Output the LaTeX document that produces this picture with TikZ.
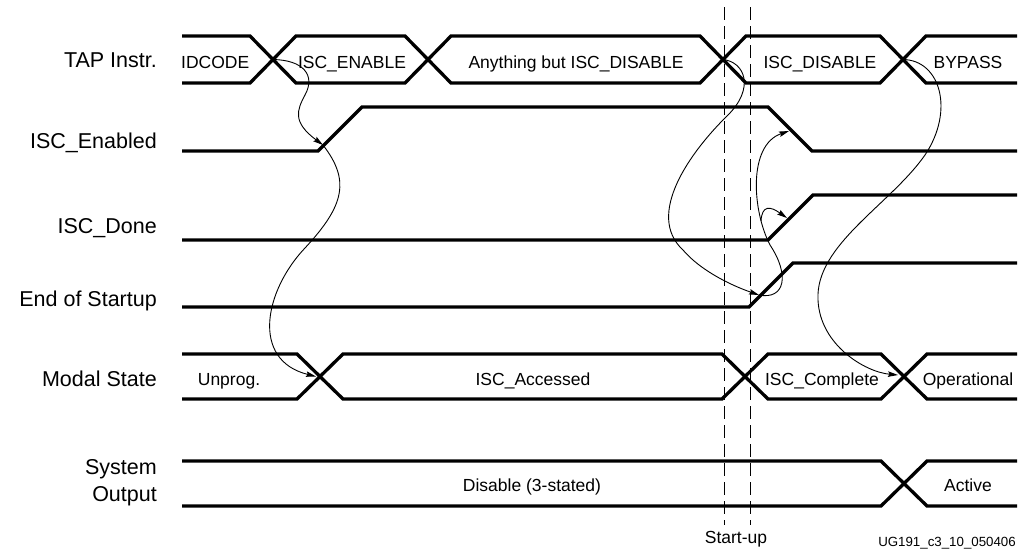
\documentclass[tikz,border=0pt]{standalone}
\usepackage{fontspec}
\setmainfont{Liberation Sans}
\usetikzlibrary{arrows.meta}
\begin{document}
\begin{tikzpicture}[
  x=1pt, y=-1pt,
  wave/.style={line width=3.3pt},
  guide/.style={line width=0.9pt, dash pattern=on 13pt off 6pt},
  link/.style={line width=0.9pt, -{Stealth[length=10pt, width=5.5pt, inset=1.5pt]}},
  lab/.style={font=\fontsize{21.5}{26.7}\selectfont, anchor=base east, inner sep=0pt},
  val/.style={font=\fontsize{17.5}{20}\selectfont, anchor=base, inner sep=0pt},
  tag/.style={font=\fontsize{13.3}{16}\selectfont, anchor=base east, inner sep=0pt}
]
\useasboundingbox (0,0) rectangle (1026,550);
\node[lab] (tap) at (157,67.7) {TAP Instr.};
\node[lab] (en) at (157,148.3) {ISC\_Enabled};
\node[lab] (done) at (157,233.3) {ISC\_Done};
\node[lab] (eosl) at (157,306) {End of Startup};
\node[lab] (modal) at (157,386.7) {Modal State};
\node[lab, anchor=east, align=right] (sysout) at (157,482.8) {System\\Output};
\draw[wave] (182,36) -- (250,36) -- (296,83) -- (405,83) -- (451,36) -- (700,36) -- (746,83) -- (880,83) -- (926,36) -- (1017,36);
\draw[wave] (182,83) -- (250,83) -- (296,36) -- (405,36) -- (451,83) -- (700,83) -- (746,36) -- (880,36) -- (926,83) -- (1017,83);
\draw[wave] (182,151) -- (318,151) -- (362,107) -- (768,107) -- (812,151) -- (1017,151);
\draw[wave] (182,240) -- (768,240) -- (813,195) -- (1017,195);
\draw[wave] (182,307) -- (749,307) -- (793,263) -- (1017,263);
\draw[wave] (182,354) -- (297,354) -- (343,399) -- (722,399) -- (768,354) -- (881,354) -- (927,399) -- (1017,399);
\draw[wave] (182,399) -- (297,399) -- (343,354) -- (722,354) -- (768,399) -- (881,399) -- (927,354) -- (1017,354);
\draw[wave] (182,461) -- (881,461) -- (927,506) -- (1017,506);
\draw[wave] (182,506) -- (881,506) -- (927,461) -- (1017,461);
\draw[guide] (724,7) -- (724,525);
\draw[guide] (750,7) -- (750,525);
\node[val, anchor=base west] (idcode) at (181,68.5) {IDCODE};
\node[val] (iscen) at (352,68.5) {ISC\_ENABLE};
\node[val] (anything) at (576,68.5) {Anything but ISC\_DISABLE};
\node[val] (iscdis) at (820,68.5) {ISC\_DISABLE};
\node[val] (bypass) at (968,68.5) {BYPASS};
\node[val] (unprog) at (229,385.5) {Unprog.};
\node[val] (accessed) at (533,385.5) {ISC\_Accessed};
\node[val] (complete) at (822,385.5) {ISC\_Complete};
\node[val] (operational) at (968,385.5) {Operational};
\node[val] (disable) at (532,491.5) {Disable (3-stated)};
\node[val] (active) at (968,491.5) {Active};
\node[val] (startup) at (736,543) {Start-up};
\node[tag] (figid) at (1016,546.5) {UG191\_c3\_10\_050406};
\coordinate (tapA) at (273,59.5);
\coordinate (tapC) at (723,59.5);
\coordinate (tapD) at (903,59.5);
\coordinate (enRise) at (323,145);
\coordinate (enFall) at (789,131);
\coordinate (doneRise) at (787,218);
\coordinate (eos) at (759,295);
\coordinate (fork) at (761,221);
\coordinate (modA) at (316,376.5);
\coordinate (modC) at (898,375);
\draw[link] (tapA) .. controls (303,60) and (316,75) .. (305,95) .. controls (297,110) and (292,122) .. (enRise);
\draw[link] (enRise) .. controls (350,180) and (345,205) .. (305,248) .. controls (265,290) and (250,360) .. (modA);
\draw[link] (tapC) .. controls (745,62) and (755,88) .. (728,115) .. controls (690,152) and (645,215) .. (683,250) .. controls (700,270) and (730,285) .. (eos);
\draw[link] (eos) .. controls (785,300) and (790,275) .. (770,245) .. controls (752,210) and (748,145) .. (enFall);
\draw[link] (fork) .. controls (762,205) and (770,206) .. (doneRise);
\draw[link] (tapD) .. controls (940,60) and (955,110) .. (925,155) .. controls (890,205) and (815,245) .. (818,300) .. controls (820,345) and (865,372) .. (modC);
\end{tikzpicture}
\end{document}
